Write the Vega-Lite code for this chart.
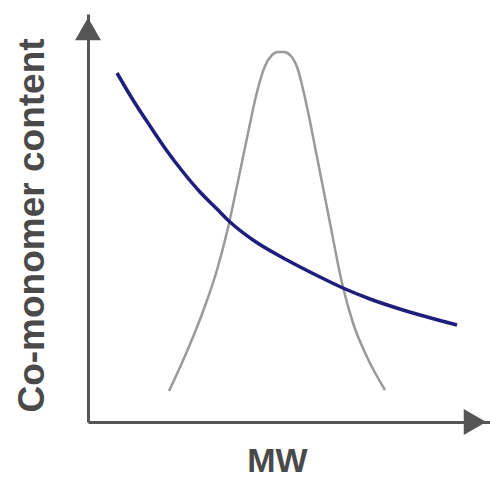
{
  "$schema": "https://vega.github.io/schema/vega-lite/v6.json",
  "width": 402,
  "height": 408,
  "autosize": {"type": "none"},
  "padding": {"left": 88, "top": 14, "right": 0, "bottom": 55},
  "background": "white",
  "config": {"view": {"stroke": null}},
  "data": {
    "values": [
      {"series": "comonomer", "x": 29, "y": 349},
      {"series": "comonomer", "x": 45, "y": 322},
      {"series": "comonomer", "x": 62, "y": 296},
      {"series": "comonomer", "x": 79, "y": 271},
      {"series": "comonomer", "x": 95, "y": 250},
      {"series": "comonomer", "x": 112, "y": 230},
      {"series": "comonomer", "x": 129, "y": 213},
      {"series": "comonomer", "x": 142, "y": 200},
      {"series": "comonomer", "x": 165, "y": 182},
      {"series": "comonomer", "x": 199, "y": 162},
      {"series": "comonomer", "x": 232, "y": 145},
      {"series": "comonomer", "x": 255, "y": 134},
      {"series": "comonomer", "x": 282, "y": 123},
      {"series": "comonomer", "x": 315, "y": 112},
      {"series": "comonomer", "x": 369, "y": 97},
      {"series": "mwd", "x": 81, "y": 31},
      {"series": "mwd", "x": 93, "y": 57},
      {"series": "mwd", "x": 105, "y": 85},
      {"series": "mwd", "x": 117, "y": 116},
      {"series": "mwd", "x": 129, "y": 152},
      {"series": "mwd", "x": 139, "y": 190},
      {"series": "mwd", "x": 149, "y": 236},
      {"series": "mwd", "x": 159, "y": 284},
      {"series": "mwd", "x": 169, "y": 330},
      {"series": "mwd", "x": 177, "y": 356},
      {"series": "mwd", "x": 184, "y": 367},
      {"series": "mwd", "x": 190, "y": 370},
      {"series": "mwd", "x": 196, "y": 370},
      {"series": "mwd", "x": 203, "y": 366},
      {"series": "mwd", "x": 209, "y": 355},
      {"series": "mwd", "x": 219, "y": 315},
      {"series": "mwd", "x": 229, "y": 265},
      {"series": "mwd", "x": 242, "y": 199},
      {"series": "mwd", "x": 254, "y": 139},
      {"series": "mwd", "x": 265, "y": 99},
      {"series": "mwd", "x": 279, "y": 65},
      {"series": "mwd", "x": 297, "y": 32},
      {"series": "arrow-up", "x": 0, "y": 393},
      {"series": "arrow-right", "x": 387, "y": 0}
    ]
  },
  "encoding": {
    "x": {
      "field": "x", "type": "quantitative",
      "scale": {"domain": [0, 402], "nice": false, "zero": false},
      "axis": {
        "domain": true, "domainColor": "#555555", "domainWidth": 3,
        "ticks": false, "labels": false, "grid": false,
        "title": "MW", "titleFont": "Liberation Sans", "titleFontSize": 34,
        "titleFontWeight": "bold", "titleColor": "#4a4a4a",
        "titleX": 189, "titleY": 49, "titleAlign": "center", "titleBaseline": "alphabetic"
      }
    },
    "y": {
      "field": "y", "type": "quantitative",
      "scale": {"domain": [0, 408], "nice": false, "zero": false},
      "axis": {
        "domain": true, "domainColor": "#555555", "domainWidth": 3,
        "ticks": false, "labels": false, "grid": false,
        "title": "Co-monomer content", "titleFont": "Liberation Sans", "titleFontSize": 37,
        "titleFontWeight": "bold", "titleColor": "#4a4a4a", "titleAngle": -90,
        "titleX": -45, "titleY": 211, "titleAlign": "center", "titleBaseline": "alphabetic"
      }
    }
  },
  "layer": [
    {
      "transform": [{"filter": "datum.series === 'mwd'"}],
      "mark": {"type": "line", "interpolate": "monotone", "color": "#9a9a9a", "strokeWidth": 2.5}
    },
    {
      "transform": [{"filter": "datum.series === 'comonomer'"}],
      "mark": {"type": "line", "interpolate": "monotone", "color": "#1e1e7c", "strokeWidth": 3.5}
    },
    {
      "transform": [{"filter": "datum.series === 'arrow-up'"}],
      "mark": {"type": "point", "shape": "triangle-up", "filled": true, "size": 676, "color": "#555555", "opacity": 1}
    },
    {
      "transform": [{"filter": "datum.series === 'arrow-right'"}],
      "mark": {"type": "point", "shape": "triangle-right", "filled": true, "size": 676, "color": "#555555", "opacity": 1}
    }
  ]
}
